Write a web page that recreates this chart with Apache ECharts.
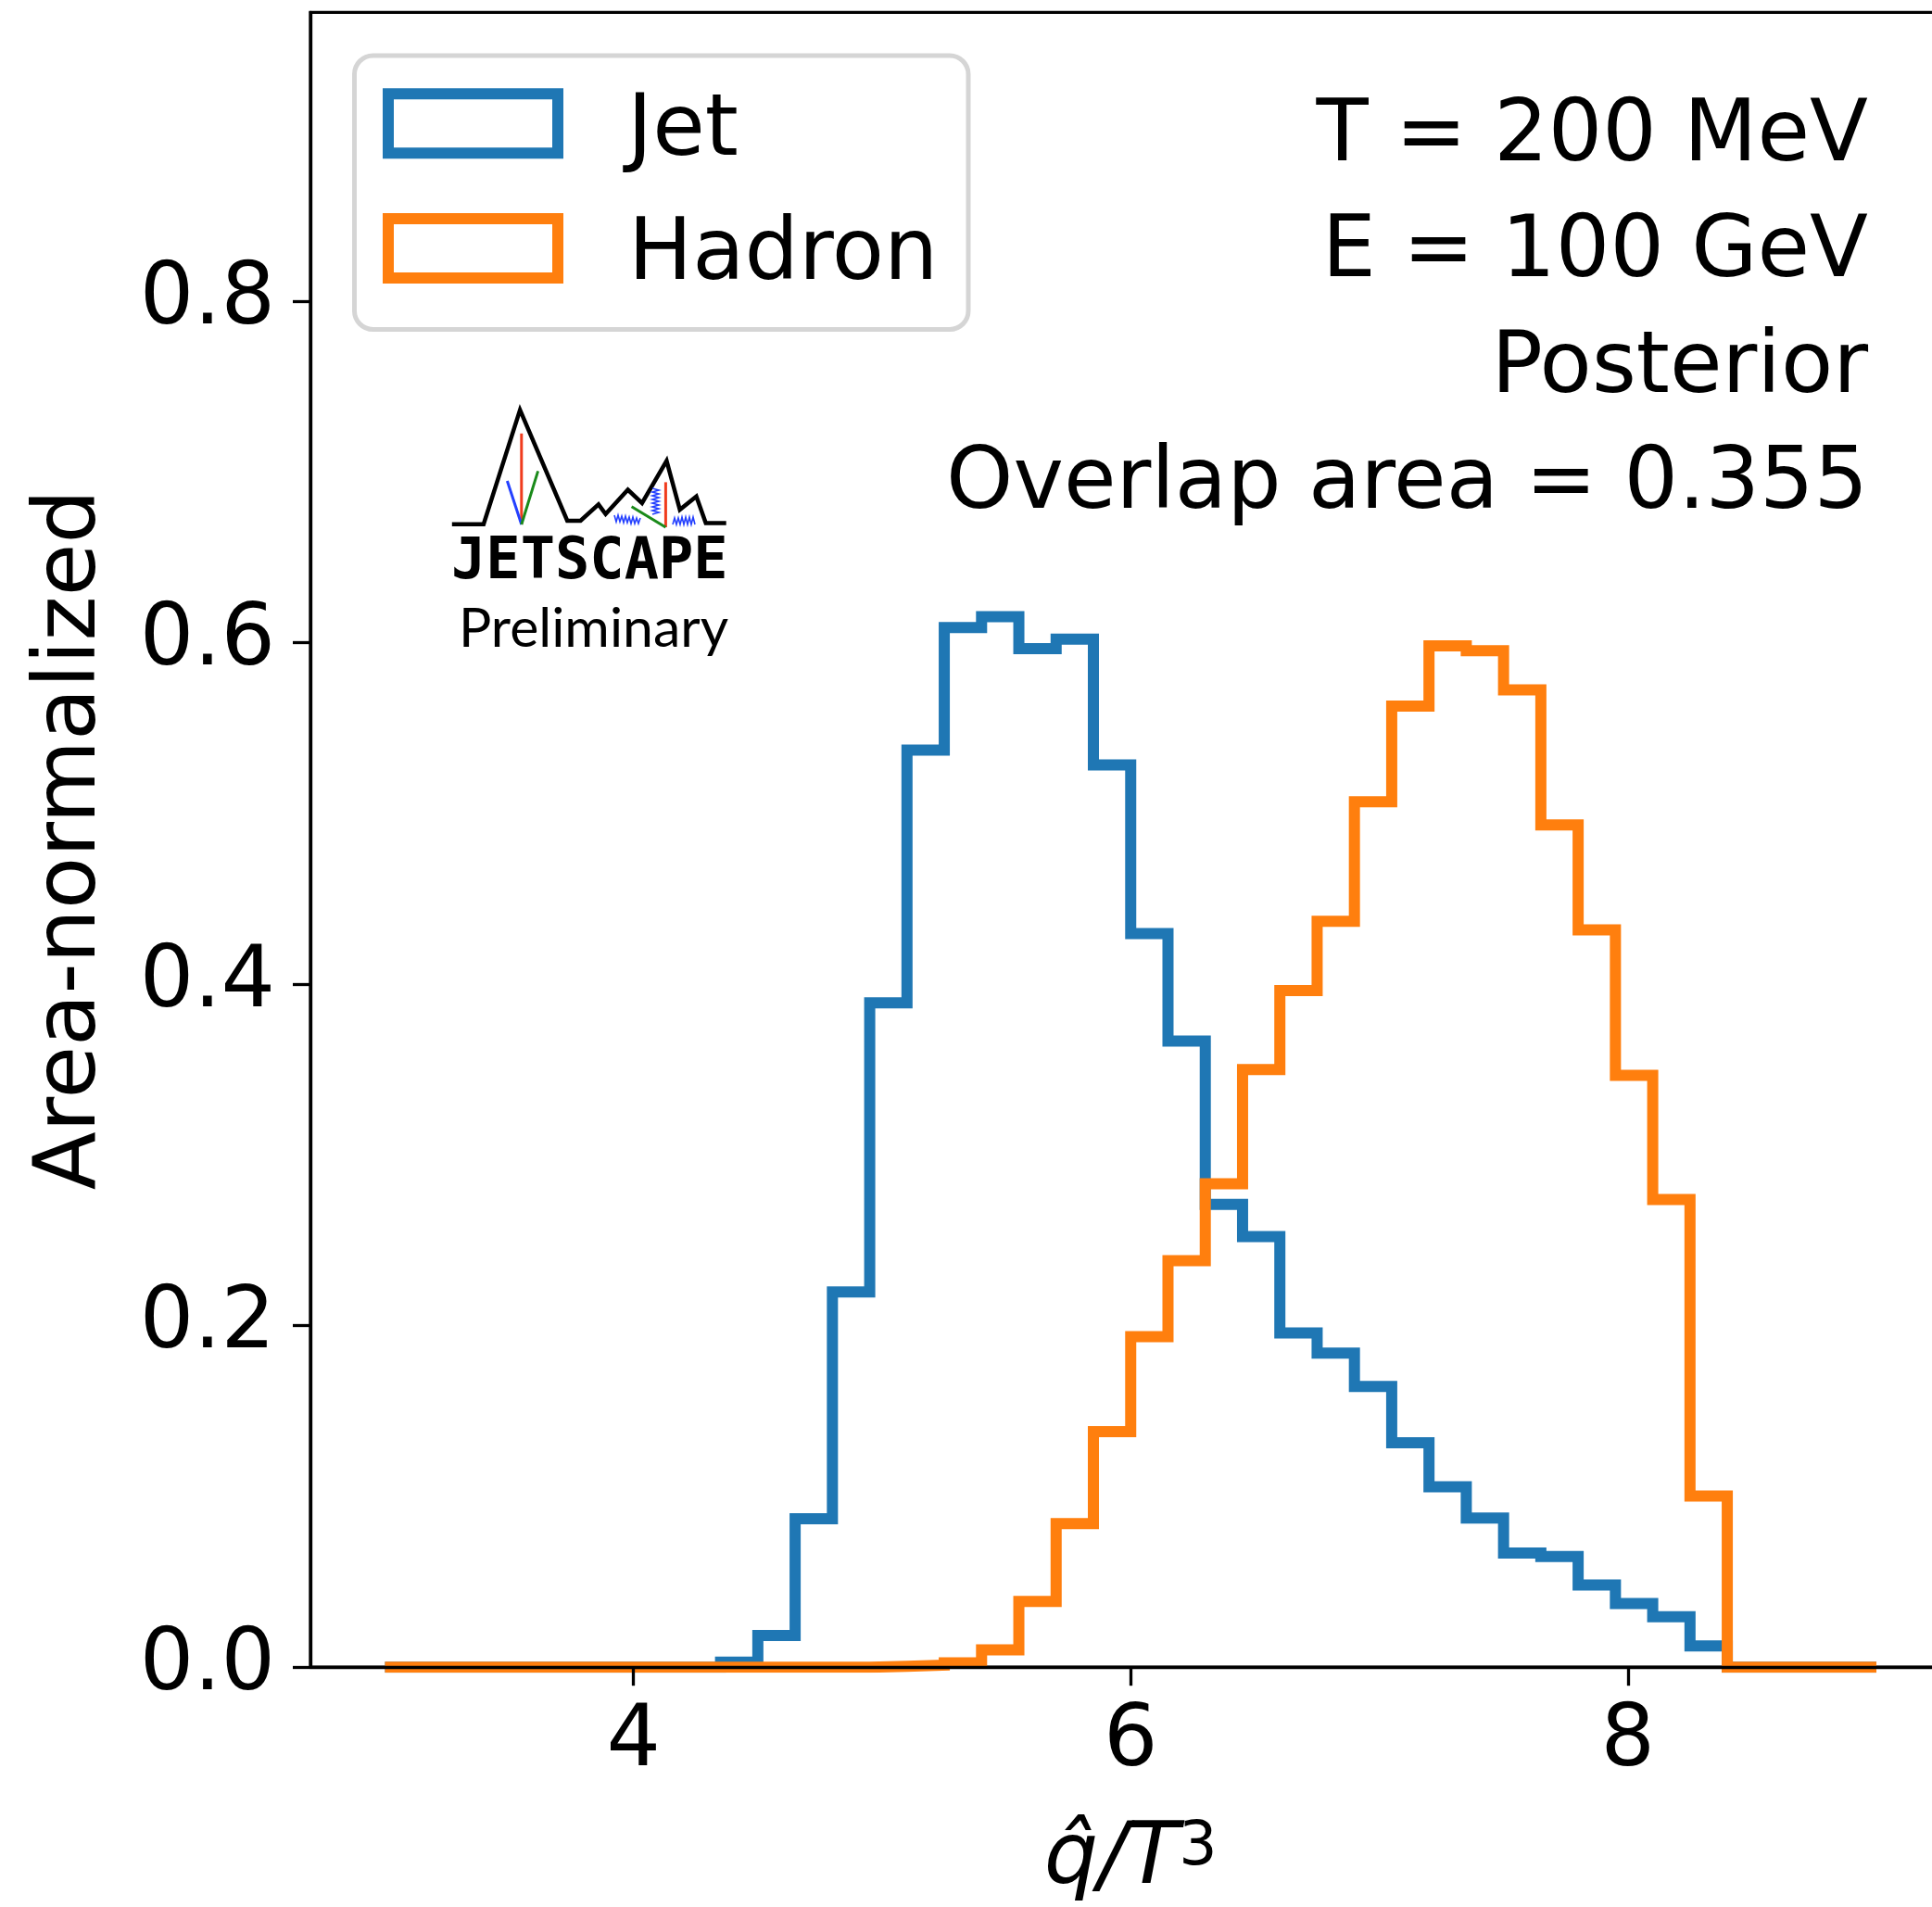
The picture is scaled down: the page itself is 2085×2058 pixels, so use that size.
<!DOCTYPE html>
<html>
<head>
<meta charset="utf-8">
<script src="https://cdn.jsdelivr.net/npm/echarts@6/dist/echarts.min.js"></script>
<style>
  html, body { margin: 0; padding: 0; background: #ffffff; }
  #chart { width: 2085px; height: 2058px; }
</style>
</head>
<body>
<div id="chart"></div>
<script>
// ---- data ----
const binStart = 3.0;
const binWidth = 0.15;
const binCount = 40;
const jetValues = [
  0, 0, 0, 0, 0, 0, 0, 0, 0, 0.003,
  0.0186, 0.0869, 0.2197, 0.389, 0.537, 0.6087, 0.6151, 0.5964, 0.602, 0.5283,
  0.4295, 0.3666, 0.271, 0.2522, 0.1957, 0.1839, 0.1644, 0.1314, 0.1057, 0.0873,
  0.0669, 0.0648, 0.0481, 0.0373, 0.0295, 0.0124, 0, 0, 0, 0
];
const hadronValues = [
  0, 0, 0, 0, 0, 0, 0, 0, 0, 0,
  0, 0, 0, 0.0005, 0.0012, 0.0025, 0.0101, 0.0385, 0.0841, 0.1379,
  0.1935, 0.238, 0.283, 0.35, 0.3962, 0.4368, 0.5068, 0.5627, 0.5981, 0.5952,
  0.5722, 0.4932, 0.4317, 0.3465, 0.2738, 0.1002, 0, 0, 0, 0
];
const xTicks = [4, 6, 8];
const yTicks = [0, 0.2, 0.4, 0.6, 0.8];
const seriesNames = ['Jet', 'Hadron'];
const infoLines = ['T = 200 MeV', 'E = 100 GeV', 'Posterior', 'Overlap area = 0.355'];

// ---- build step outlines ----
const edges = [];
for (let k = 0; k <= binCount; k++) edges.push(+(binStart + binWidth * k).toFixed(4));
function stepPoints(vals) {
  const pts = [[edges[0], 0]];
  vals.forEach((v, k) => { pts.push([edges[k], v]); pts.push([edges[k + 1], v]); });
  pts.push([edges[binCount], 0]);
  return pts;
}

const BLUE = '#1f77b4', ORANGE = '#ff7f0e';
const FONT = 'DejaVu Sans';

const chart = echarts.init(document.getElementById('chart'), null, { renderer: 'canvas' });

const legendGroup = [
  { type: 'rect', shape: { x: 382.5, y: 60, width: 662.5, height: 295.5, r: 20 },
    style: { fill: 'rgba(255,255,255,0.8)', stroke: '#d5d5d5', lineWidth: 5 } },
  { type: 'rect', shape: { x: 419, y: 101.2, width: 183, height: 64 }, style: { fill: null, stroke: BLUE, lineWidth: 12, lineJoin: 'miter' } },
  { type: 'rect', shape: { x: 419, y: 236, width: 183, height: 64 }, style: { fill: null, stroke: ORANGE, lineWidth: 12, lineJoin: 'miter' } },
  { type: 'text', x: 677, y: 143.2, style: { text: seriesNames[0], font: '92px "DejaVu Sans"', fill: '#000', align: 'left', verticalAlign: 'middle' } },
  { type: 'text', x: 678, y: 277.4, style: { text: seriesNames[1], font: '92px "DejaVu Sans"', fill: '#000', align: 'left', verticalAlign: 'middle' } }
];

const logo = [
  { type: 'polyline', shape: { points: [[487.8,565.8],[521.9,565.8],[561.2,442.4],[612.2,562],[626.5,562],[645.9,544.3],[653.6,554.8],[677.6,528.5],[692.9,542.9],[719.4,497.4],[733.7,550],[751.5,535.7],[761.7,564.4],[783.7,564.4]] },
    style: { stroke: '#000', lineWidth: 4.5, fill: null, lineJoin: 'miter' } },
  { type: 'line', shape: { x1: 562.8, y1: 467.8, x2: 562.8, y2: 566 }, style: { stroke: '#f03c1e', lineWidth: 3 } },
  { type: 'line', shape: { x1: 547.4, y1: 519, x2: 562.8, y2: 566 }, style: { stroke: '#2440ff', lineWidth: 3 } },
  { type: 'line', shape: { x1: 580.6, y1: 508.4, x2: 562.8, y2: 566 }, style: { stroke: '#1a8a1a', lineWidth: 3 } },
  { type: 'line', shape: { x1: 718.4, y1: 520.4, x2: 718.4, y2: 569 }, style: { stroke: '#f03c1e', lineWidth: 3 } },
  { type: 'line', shape: { x1: 681.6, y1: 546.7, x2: 718.4, y2: 569 }, style: { stroke: '#1a8a1a', lineWidth: 3 } },
  { type: 'polyline', shape: { points: [[663,556],[665,563],[667,556],[669,563],[671,557],[673,564],[675,557],[677,564],[679,558],[681,565],[683,558],[685,565],[687,559],[689,565],[691,559]] },
    style: { stroke: '#2440ff', lineWidth: 1.6, fill: null } },
  { type: 'polyline', shape: { points: [[704,527],[711,529],[704,531],[711,533],[704,535],[711,537],[704,539],[711,541],[704,543],[711,545],[704,547],[711,549],[704,551],[711,553],[704,555]] },
    style: { stroke: '#2440ff', lineWidth: 1.6, fill: null } },
  { type: 'polyline', shape: { points: [[726,566],[728,559],[730,566],[732,559],[734,566],[736,558],[738,566],[740,558],[742,566],[744,558],[746,566],[748,558],[750,566]] },
    style: { stroke: '#2440ff', lineWidth: 1.6, fill: null } },
  { type: 'text', x: 487, y: 608, style: { text: 'JETSCAPE', font: 'bold 62px "DejaVu Sans Mono"', fill: '#000', align: 'left', verticalAlign: 'middle' } },
  { type: 'text', x: 495, y: 679, style: { text: 'Preliminary', font: '59px Lato', fill: '#000', align: 'left', verticalAlign: 'middle' } }
];

const option = {
  backgroundColor: '#ffffff',
  animation: false,
  grid: { left: 335, top: 13.3, width: 1770.5, height: 1785.9, show: true, borderColor: '#000', borderWidth: 3.3, backgroundColor: 'transparent', outerBoundsMode: 'none', containLabel: false },
  xAxis: {
    type: 'value', min: 2.7, max: 9.3, z: 10,
    name: '{i|q\u0302/T}{s|3}', nameLocation: 'middle', nameGap: 163,
    nameTextStyle: { rich: {
      i: { fontFamily: FONT, fontStyle: 'italic', fontSize: 92, color: '#000' },
      s: { fontFamily: FONT, fontSize: 65, lineHeight: 2, verticalAlign: 'top', color: '#000' }
    } },
    axisLine: { show: true, onZero: false, lineStyle: { color: '#000', width: 3.3 } },
    axisTick: { show: true, length: 20, customValues: xTicks, lineStyle: { color: '#000', width: 3.3 } },
    axisLabel: { customValues: xTicks, margin: 36, fontFamily: FONT, fontSize: 92, color: '#000', formatter: v => String(v) },
    splitLine: { show: false }
  },
  yAxis: {
    type: 'value', min: 0, max: 0.969, z: 10,
    name: 'Area-normalized', nameLocation: 'middle', nameGap: 211,
    nameTextStyle: { fontFamily: FONT, fontSize: 92, color: '#000' },
    axisLine: { show: true, onZero: false, lineStyle: { color: '#000', width: 3.3 } },
    axisTick: { show: true, length: 19, customValues: yTicks, lineStyle: { color: '#000', width: 3.3 } },
    axisLabel: { customValues: yTicks, margin: 38, fontFamily: FONT, fontSize: 92, color: '#000', formatter: v => v.toFixed(1) },
    splitLine: { show: false }
  },
  graphic: [
    { type: 'group', z: 20, children: legendGroup },
    { type: 'text', x: 2016, y: 86.7, z: 5,
      style: { text: infoLines.join('\n'), font: '92px "DejaVu Sans"', lineHeight: 125, fill: '#000', align: 'right', verticalAlign: 'top' } },
    { type: 'group', children: logo }
  ],
  series: [
    { name: seriesNames[0], type: 'line', data: stepPoints(jetValues), showSymbol: false, symbol: 'none', clip: true, z: 2,
      itemStyle: { color: BLUE }, lineStyle: { color: BLUE, width: 12, join: 'miter', cap: 'butt' } },
    { name: seriesNames[1], type: 'line', data: stepPoints(hadronValues), showSymbol: false, symbol: 'none', clip: true, z: 3,
      itemStyle: { color: ORANGE }, lineStyle: { color: ORANGE, width: 12, join: 'miter', cap: 'butt' } }
  ]
};
chart.setOption(option);
</script>
</body>
</html>
